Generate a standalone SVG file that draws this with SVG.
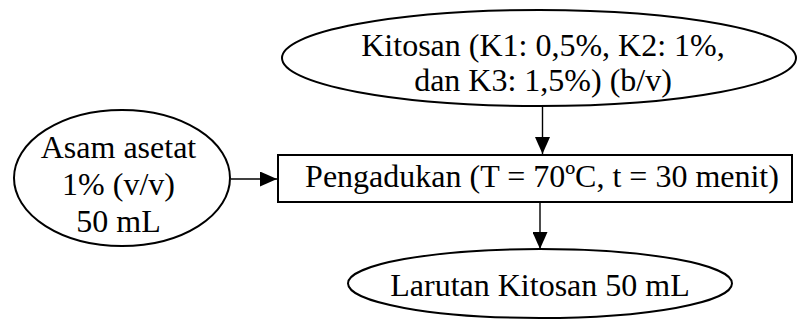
<svg xmlns="http://www.w3.org/2000/svg" width="797" height="320" viewBox="0 0 797 320">
<style>
.shape{fill:#fff;stroke:#000;stroke-width:2}
.lbl{font-family:"Liberation Serif","Times New Roman",serif;font-size:32px;fill:#000;text-anchor:middle}
.conn{stroke:#000;stroke-width:1.4;fill:none;marker-end:url(#ah)}
</style>
<defs>
<marker id="ah" markerUnits="userSpaceOnUse" markerWidth="17" markerHeight="15" refX="17" refY="7.5" orient="auto">
<path d="M0,0 L17,7.5 L0,15 z" fill="#000"/>
</marker>
</defs>
<rect width="797" height="320" fill="#fff"/>
<g id="connectors">
<path class="conn" d="M542.5,106 L542.5,154"/>
<path class="conn" d="M231,179 L277,179"/>
<path class="conn" d="M540,203 L540,249"/>
</g>
<g id="kitosan">
<ellipse class="shape" cx="539" cy="58" rx="257" ry="48"/>
<text class="lbl" x="543" y="56">Kitosan (K1: 0,5%, K2: 1%,</text>
<text class="lbl" x="543" y="91">dan K3: 1,5%) (b/v)</text>
</g>
<g id="asam">
<ellipse class="shape" cx="122" cy="178" rx="108" ry="68"/>
<text class="lbl" x="118.5" y="158">Asam asetat</text>
<text class="lbl" x="118.5" y="195">1% (v/v)</text>
<text class="lbl" x="118.5" y="231.5">50 mL</text>
</g>
<g id="pengadukan">
<rect class="shape" x="278" y="155" width="514" height="47"/>
<text class="lbl" x="542" y="186.5">Pengadukan (T = 70ºC, t = 30 menit)</text>
</g>
<g id="larutan">
<ellipse class="shape" cx="540" cy="283.5" rx="192" ry="34.5"/>
<text class="lbl" x="540" y="296">Larutan Kitosan 50 mL</text>
</g>
</svg>
